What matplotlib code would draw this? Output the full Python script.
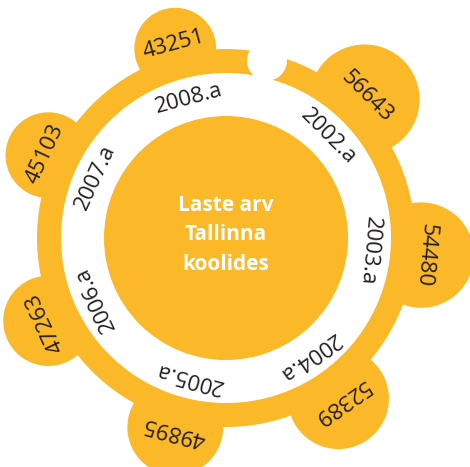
import matplotlib.pyplot as plt
import numpy as np
from matplotlib.patches import Circle

years = ['2002.a', '2003.a', '2004.a', '2005.a', '2006.a', '2007.a', '2008.a']
children = [56643, 54480, 52389, 49895, 47263, 45103, 43251]
title = 'Laste arv\nTallinna\nkoolides'

orange = '#FBB829'
dark = '#231F20'

plt.rcParams['font.family'] = ['Open Sans', 'DejaVu Sans']

fig = plt.figure(figsize=(4.70, 4.67), dpi=100)
ax = fig.add_axes([0, 0, 1, 1])
ax.set_xlim(0, 470)
ax.set_ylim(467, 0)
ax.set_aspect('equal')
ax.axis('off')

cx, cy = 226, 238
r_center, r_white, r_ring = 122, 165, 189
r_bubble, r_label, r_year = 196, 200, 144

angles = 45 - 50 * np.arange(len(years))


def pos(r, deg):
    t = np.radians(deg)
    return cx + r * np.cos(t), cy - r * np.sin(t)


# bubbles, size follows the number of children
for val, a in zip(children, angles):
    size = 0.00105 * val - 4.5
    ax.add_patch(Circle(pos(r_bubble, a), size, color=orange, lw=0))

ax.add_patch(Circle((cx, cy), r_ring, color=orange, lw=0))
ax.add_patch(Circle((cx, cy), r_white, color='white', lw=0))
ax.add_patch(Circle((cx, cy), r_center, color=orange, lw=0))
# gap in the ring
ax.add_patch(Circle(pos(182, 77), 20, color='white', lw=0))

for yr, val, a in zip(years, children, angles):
    x, y = pos(r_year, a)
    ax.text(x, y, yr, rotation=a - 90, ha='center', va='center',
            rotation_mode='anchor', fontsize=16, color=dark)
    x, y = pos(r_label, a)
    ax.text(x, y, str(val), rotation=a - 90, ha='center', va='center',
            rotation_mode='anchor', fontsize=16, color=dark)

ax.text(cx, cy - 3, title, ha='center', va='center', color='white',
        fontsize=15, fontweight='bold', linespacing=1.55)

fig.savefig('out.png', dpi=100)
